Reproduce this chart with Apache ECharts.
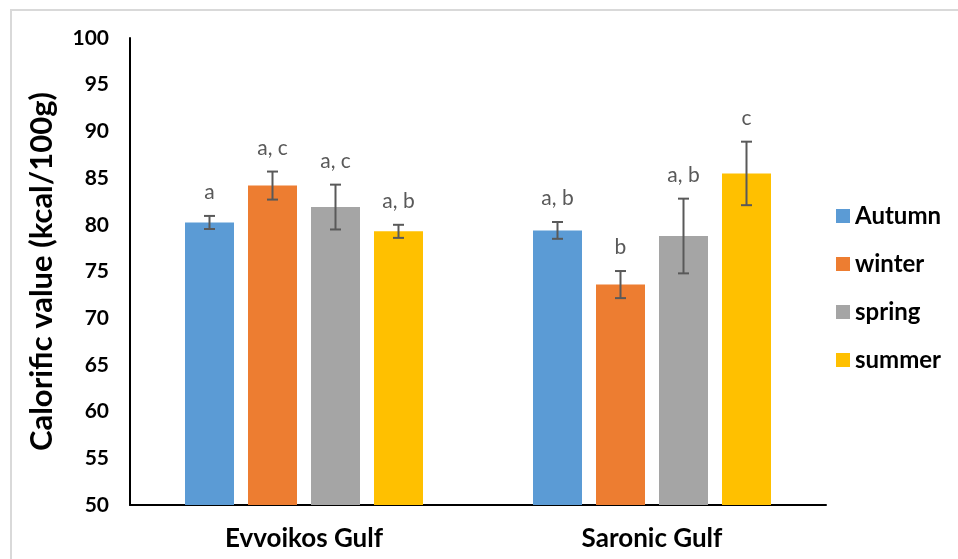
<!DOCTYPE html>
<html>
<head>
<meta charset="utf-8">
<script src="https://cdn.jsdelivr.net/npm/echarts@6/dist/echarts.min.js"></script>
<style>
html,body{margin:0;padding:0;background:#fff;}
#frame{position:absolute;left:10px;top:9px;width:948px;height:550px;border-left:2px solid #d9d9d9;border-top:2px solid #d9d9d9;box-sizing:border-box;}
#chart{position:absolute;left:0;top:0;width:958px;height:559px;}
</style>
</head>
<body>
<div id="frame"></div>
<div id="chart"></div>
<script>
const categories = ['Evvoikos Gulf', 'Saronic Gulf'];
const seasons = ['Autumn', 'winter', 'spring', 'summer'];
const autumn = [80.25, 79.4];
const winter = [84.2, 73.6];
const spring = [81.9, 78.8];
const summer = [79.3, 85.5];
const autumnErr = [0.7, 0.9];
const winterErr = [1.5, 1.45];
const springErr = [2.4, 4.0];
const summerErr = [0.7, 3.4];
const autumnLabels = ['a', 'a, b'];
const winterLabels = ['a, c', 'b'];
const springLabels = ['a, c', 'a, b'];
const summerLabels = ['a, b', 'c'];

const means = [autumn, winter, spring, summer];
const errs = [autumnErr, winterErr, springErr, summerErr];
const letters = [autumnLabels, winterLabels, springLabels, summerLabels];
const colors = ['#5B9BD5', '#ED7D31', '#A5A5A5', '#FFC000'];
const BAR_W = 49, BAR_STEP = 63;
const FONT = 'Lato, "Open Sans", sans-serif';

const series = [];
seasons.forEach((s, i) => {
  series.push({
    name: s, type: 'bar', data: means[i], barWidth: BAR_W, barGap: ((BAR_STEP - BAR_W) / BAR_W * 100) + '%',
    itemStyle: { color: colors[i] }, z: 2
  });
});
seasons.forEach((s, i) => {
  series.push({
    name: s + ' error', type: 'custom', z: 5,
    data: categories.map((c, k) => [k, means[i][k], errs[i][k]]),
    renderItem: function (params, api) {
      const k = api.value(0), m = api.value(1), e = api.value(2);
      const off = (i - 1.5) * BAR_STEP;
      const top = api.coord([k, m + e]);
      const bot = api.coord([k, m - e]);
      const x = top[0] + off;
      const cap = 5.5;
      const st = { stroke: '#595959', lineWidth: 2 };
      const label = letters[i][k];
      return {
        type: 'group',
        children: [
          { type: 'line', shape: { x1: x, y1: top[1], x2: x, y2: bot[1] }, style: st },
          { type: 'line', shape: { x1: x - cap, y1: top[1], x2: x + cap, y2: top[1] }, style: st },
          { type: 'line', shape: { x1: x - cap, y1: bot[1], x2: x + cap, y2: bot[1] }, style: st },
          { type: 'text', style: { text: label, x: x, y: top[1] - 13, align: 'center', verticalAlign: 'bottom',
            fill: '#595959', font: '21px ' + FONT } }
        ]
      };
    }
  });
});

const chart = echarts.init(document.getElementById('chart'));
chart.setOption({
  animation: false,
  backgroundColor: 'transparent',
  grid: { left: 130, right: 132, top: 38, bottom: 54, containLabel: false },
  legend: {
    data: seasons, orient: 'vertical', left: 831, top: 199, itemWidth: 14, itemHeight: 14, itemGap: 24,
    icon: 'rect',
    textStyle: { fontFamily: FONT, fontWeight: 'bold', fontSize: 24, lineHeight: 24, color: '#000' }
  },
  xAxis: {
    type: 'category', data: categories,
    axisLine: { lineStyle: { color: '#000', width: 2 } },
    axisTick: { show: false },
    axisLabel: { fontFamily: FONT, fontWeight: 'bold', fontSize: 26, color: '#000', margin: 21 }
  },
  yAxis: {
    type: 'value', min: 50, max: 100, interval: 5,
    name: 'Calorific value (kcal/100g)', nameLocation: 'middle', nameGap: 73, nameRotate: 90,
    nameTextStyle: { fontFamily: FONT, fontWeight: 'bold', fontSize: 31, color: '#000' },
    axisLine: { show: true, lineStyle: { color: '#000', width: 2 } },
    axisTick: { show: false },
    splitLine: { show: false },
    axisLabel: { fontFamily: FONT, fontWeight: 'bold', fontSize: 21, color: '#000', margin: 21 }
  },
  series: series
});
</script>
</body>
</html>
